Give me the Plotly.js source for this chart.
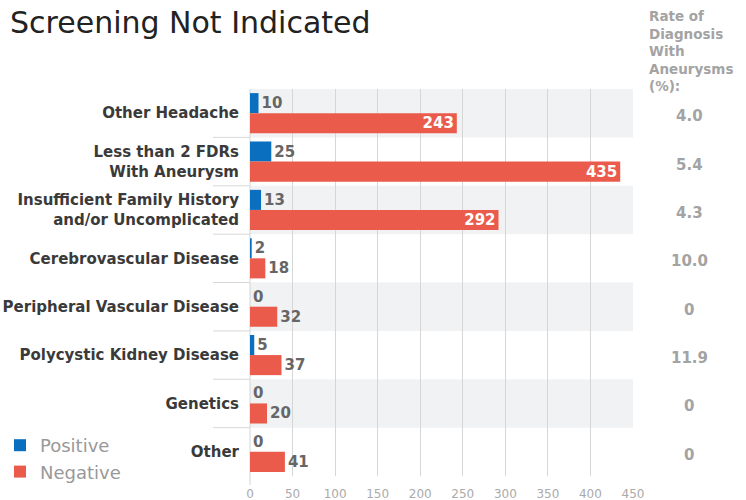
<!DOCTYPE html>
<html>
<head>
<meta charset="utf-8">
<script src="https://cdn.plot.ly/plotly-3.0.1.min.js"></script>
<style>html,body{margin:0;padding:0;background:#fff;}#chart{width:746px;height:500px;}</style>
</head>
<body>
<div id="chart"></div>
<script>
const categories = ["Other Headache", "Less than 2 FDRs<br>With Aneurysm", "Insufficient Family History<br>and/or Uncomplicated", "Cerebrovascular Disease", "Peripheral Vascular Disease", "Polycystic Kidney Disease", "Genetics", "Other"];
const positive = [10, 25, 13, 2, 0, 5, 0, 0];
const negative = [243, 435, 292, 18, 32, 37, 20, 41];
const rates = ["4.0", "5.4", "4.3", "10.0", "0", "11.9", "0", "0"];
const xTicks = [0, 50, 100, 150, 200, 250, 300, 350, 400, 450];

const FONT = "DejaVu Sans";
const labelGray = "#666666";
const PLOT_L = 250, PLOT_W = 383, PLOT_T = 89, PLOT_H = 387;

const negPos = negative.map(v => v > 100 ? "inside" : "outside");

const traces = [
  {
    type: "bar", orientation: "h", name: "Positive",
    y: categories, x: positive, text: positive.map(String),
    textposition: "outside", cliponaxis: false, constraintext: "none",
    textfont: {family: FONT, size: 15, color: labelGray, weight: "bold"},
    marker: {color: "#0a6fbf"}, hoverinfo: "x+y"
  },
  {
    type: "bar", orientation: "h", name: "Negative",
    y: categories, x: negative, text: negative.map(String),
    textposition: negPos, insidetextanchor: "end", cliponaxis: false, constraintext: "none",
    insidetextfont: {family: FONT, size: 15, color: "#ffffff", weight: "bold"},
    outsidetextfont: {family: FONT, size: 15, color: labelGray, weight: "bold"},
    marker: {color: "#eb5b4b"}, hoverinfo: "x+y"
  }
];

const shapes = [];
categories.forEach((c, i) => {
  if (i % 2 === 0) {
    shapes.push({type: "rect", xref: "paper", yref: "y", x0: 0, x1: 1, y0: i - 0.5, y1: i + 0.5,
      fillcolor: "#f1f2f4", line: {width: 0}, layer: "below"});
  }
  if (i > 0) {
    shapes.push({type: "line", xref: "paper", yref: "y", x0: -37 / PLOT_W, x1: 0, y0: i - 0.5, y1: i - 0.5,
      line: {color: "#d8d8d8", width: 1}, layer: "below"});
  }
});
shapes.push({type: "line", xref: "paper", yref: "paper", x0: 0, x1: 0, y0: -9 / PLOT_H, y1: 1,
  line: {color: "#d4d4d4", width: 1}, layer: "below"});

const annotations = [];
annotations.push({
  xref: "paper", yref: "paper", x: (647 - PLOT_L) / PLOT_W, y: 1 + (PLOT_T - 6) / PLOT_H, xanchor: "left", yanchor: "top",
  align: "left", showarrow: false,
  text: "Rate of<br>Diagnosis<br>With<br>Aneurysms<br>(%):",
  font: {family: FONT, size: 13.5, color: "#a3a3a3", weight: "bold"}
});
categories.forEach((c, i) => {
  annotations.push({
    xref: "paper", yref: "y", x: (689 - PLOT_L) / PLOT_W, y: c, yshift: -3, xanchor: "center", yanchor: "middle",
    showarrow: false, text: rates[i],
    font: {family: FONT, size: 15, color: "#a3a3a3", weight: "bold"}
  });
});

const layout = {
  width: 746, height: 500,
  margin: {l: PLOT_L, r: 746 - PLOT_L - PLOT_W, t: PLOT_T, b: 500 - PLOT_T - PLOT_H, pad: 0, autoexpand: false},
  paper_bgcolor: "#ffffff", plot_bgcolor: "rgba(0,0,0,0)",
  title: {text: "Screening Not Indicated", xref: "container", yref: "container", x: 10 / 746, y: 1 - 12 / 500,
    xanchor: "left", yanchor: "top", font: {family: FONT, size: 30, color: "#222222"}},
  barmode: "group", bargap: 0.17, bargroupgap: 0,
  xaxis: {range: [0, 450], tickvals: xTicks, ticktext: xTicks.map(String), showgrid: true, gridcolor: "#d6d6d6",
    zeroline: false, showline: false, ticks: "", fixedrange: true, ticklabelstandoff: 9,
    tickfont: {family: FONT, size: 12, color: "#aaaaaa"}},
  yaxis: {type: "category", autorange: "reversed", showgrid: false, zeroline: false, showline: false,
    ticks: "", ticklabelstandoff: 10,
    tickfont: {family: FONT, size: 15, color: "#3a3a3a", weight: "bold"}},
  showlegend: true,
  legend: {x: -PLOT_L / PLOT_W, y: (500 - 427 - (500 - PLOT_T - PLOT_H)) / PLOT_H, xanchor: "left", yanchor: "top",
    orientation: "v", traceorder: "normal", font: {family: FONT, size: 18, color: "#999999"},
    bgcolor: "rgba(0,0,0,0)", itemwidth: 30, tracegroupgap: 0},
  shapes: shapes,
  annotations: annotations
};

Plotly.newPlot("chart", traces, layout, {displayModeBar: false, staticPlot: true});
</script>
</body>
</html>
